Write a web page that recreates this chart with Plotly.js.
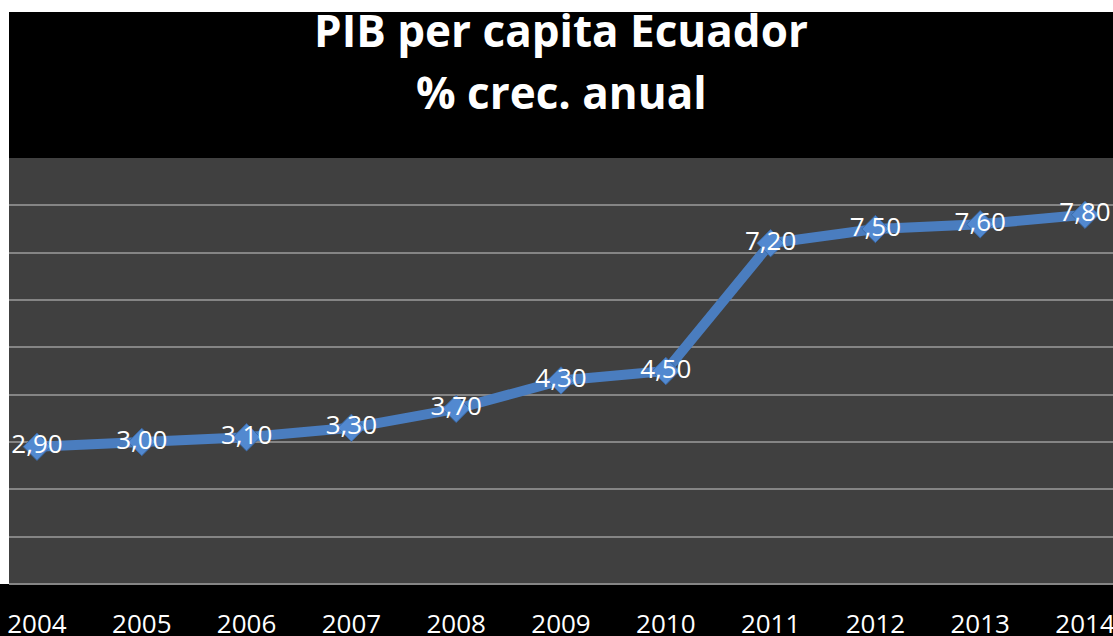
<!DOCTYPE html>
<html>
<head>
<meta charset="utf-8">
<script src="https://cdn.plot.ly/plotly-3.0.1.min.js"></script>
<style>
  html, body { margin: 0; padding: 0; background: #ffffff; }
  #chart { width: 1113px; height: 636px; }
</style>
</head>
<body>
<div id="chart"></div>
<script>
// Data
const years = ['2004', '2005', '2006', '2007', '2008', '2009', '2010', '2011', '2012', '2013', '2014'];
const growth = [2.90, 3.00, 3.10, 3.30, 3.70, 4.30, 4.50, 7.20, 7.50, 7.60, 7.80];
const titleLine1 = 'PIB per capita Ecuador';
const titleLine2 = '% crec. anual';

const labels = growth.map(v => v.toFixed(2).replace('.', ','));
const FONT = '"Open Sans", Lato, sans-serif';

const trace = {
  type: 'scatter',
  mode: 'lines+markers+text',
  x: years,
  y: growth,
  text: labels,
  textposition: 'middle center',
  textfont: { family: FONT, size: 26, color: '#ffffff' },
  line: { color: '#4a7dbf', width: 10 },
  marker: { symbol: 'diamond', size: 21, color: '#5289d0', line: { color: '#3a6aa8', width: 1 } },
  cliponaxis: false,
  hoverinfo: 'skip'
};

const layout = {
  width: 1113,
  height: 636,
  paper_bgcolor: '#000000',
  plot_bgcolor: '#404040',
  margin: { l: 9, r: 0, t: 158, b: 52, pad: 0 },
  showlegend: false,
  title: {
    text: titleLine1,
    font: { family: FONT, size: 44, color: '#ffffff', weight: 'bold' },
    x: 0.5, xref: 'paper', xanchor: 'center',
    y: 1 - 32 / 636, yref: 'container', yanchor: 'middle'
  },
  annotations: [{
    text: titleLine2,
    font: { family: FONT, size: 44, color: '#ffffff', weight: 'bold' },
    x: 0.5, xref: 'paper', xanchor: 'center',
    y: (584 - 92) / 426, yref: 'paper', yanchor: 'middle',
    showarrow: false
  }],
  xaxis: {
    type: 'category',
    range: [-0.267, 10.267],
    showgrid: false,
    zeroline: false,
    showline: false,
    ticks: '',
    tickfont: { family: FONT, size: 26, color: '#ffffff' },
    ticklabelstandoff: 22
  },
  yaxis: {
    range: [0, 9],
    dtick: 1,
    tick0: 0,
    showticklabels: false,
    showgrid: true,
    gridcolor: '#858585',
    gridwidth: 2,
    zeroline: true,
    zerolinecolor: '#858585',
    zerolinewidth: 2,
    showline: false,
    ticks: ''
  },
  shapes: [
    { type: 'rect', xref: 'paper', yref: 'paper', x0: -9 / 1104, x1: 0, y0: 0, y1: 1.3709, fillcolor: '#ffffff', line: { width: 0 }, layer: 'above' },
    { type: 'rect', xref: 'paper', yref: 'paper', x0: -9 / 1104, x1: 1, y0: 1.3427, y1: 1.3709, fillcolor: '#ffffff', line: { width: 0 }, layer: 'above' }
  ]
};

Plotly.newPlot('chart', [trace], layout, { displayModeBar: false, staticPlot: true });
</script>
</body>
</html>
